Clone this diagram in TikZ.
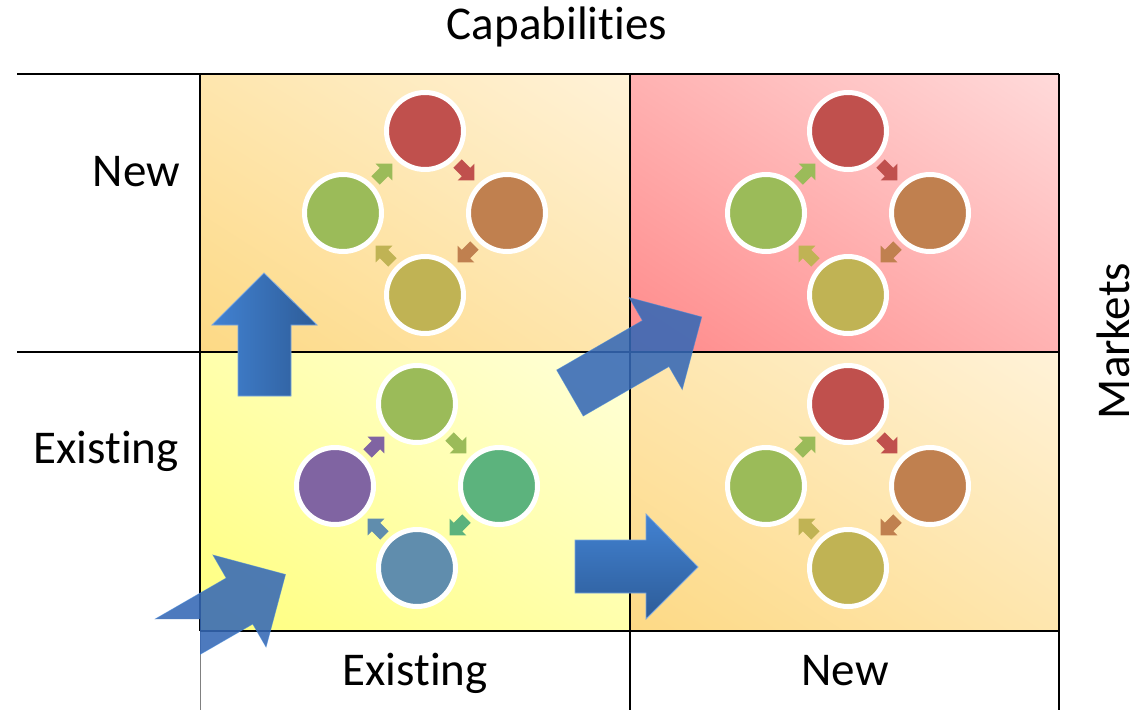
\documentclass[tikz,border=0pt]{standalone}
\usepackage{fontspec}
\setmainfont{Carlito}[RawFeature={-liga;-clig;-dlig;-rlig;-calt}]
\usetikzlibrary{calc,shadings}

% circle colours
\definecolor{cRed}{HTML}{C0504D}
\definecolor{cOrange}{HTML}{C0804F}
\definecolor{cOlive}{HTML}{C0B354}
\definecolor{cGreen}{HTML}{9BBB59}
\definecolor{cPurple}{HTML}{8064A2}
\definecolor{cTeal}{HTML}{5CB37D}
\definecolor{cSteel}{HTML}{608DAD}
% block arrows
\definecolor{arrowLight}{HTML}{4282D2}
\definecolor{arrowDark}{HTML}{2D5C98}
\definecolor{arrowMid}{HTML}{3568B6}
% quadrant backgrounds
\definecolor{orangeLo}{HTML}{FDD985}
\definecolor{orangeMid}{HTML}{FEE6AE}
\definecolor{orangeHi}{HTML}{FFF2D8}
\definecolor{redLo}{HTML}{FF8A8A}
\definecolor{redMid}{HTML}{FFB2B2}
\definecolor{redHi}{HTML}{FFDADA}
\definecolor{yelLo}{HTML}{FFFF7E}
\definecolor{yelMid}{HTML}{FFFFAC}
\definecolor{yelHi}{HTML}{FFFFDA}

\tikzset{
  gridline/.style={line width=2.6pt, black},
  lbl/.style={font=\fontsize{47}{56}\selectfont, inner sep=0pt, text=black},
  ring/.style={circle, draw=white, line width=5pt, minimum size=77pt, inner sep=0pt},
  diagarrow/.style={fill=arrowMid, fill opacity=0.88, draw=arrowLight, draw opacity=0.6, line width=0.8pt},
  ring arrow/.pic={\path[pic actions] (-12,-6) -- (0,-6) -- (0,-12) -- (12,0) -- (0,12) -- (0,6) -- (-12,6) -- cycle;},
  wide arrow/.pic={\path[pic actions] (0,-26.5) -- (99,-26.5) -- (99,-53) -- (152,0) -- (99,53) -- (99,26.5) -- (0,26.5) -- cycle;}
}

% four circles in a clockwise ring with small arrows between them
% #1 prefix, #2 centre, #3 top, #4 right, #5 bottom, #6 left
\newcommand\ringcycle[6]{%
  \node[ring, fill=#3] (#1-t) at ($#2+(0,-82)$) {};
  \node[ring, fill=#4] (#1-r) at ($#2+(82,0)$) {};
  \node[ring, fill=#5] (#1-b) at ($#2+(0,82)$) {};
  \node[ring, fill=#6] (#1-l) at ($#2+(-82,0)$) {};
  \pic[rotate=-45, fill=#3] at ($(#1-t)!0.5!(#1-r)$) {ring arrow};
  \pic[rotate=-135, fill=#4] at ($(#1-r)!0.5!(#1-b)$) {ring arrow};
  \pic[rotate=135, fill=#5] at ($(#1-b)!0.5!(#1-l)$) {ring arrow};
  \pic[rotate=45, fill=#6] at ($(#1-l)!0.5!(#1-t)$) {ring arrow};
}

\begin{document}
\begin{tikzpicture}[x=1pt, y=-1pt]
  \useasboundingbox (0,0) rectangle (1140,710);
  \fill[white] (0,0) rectangle (1140,710);

  % quadrant backgrounds
  \shade[lower left=orangeLo, upper right=orangeHi, upper left=orangeMid, lower right=orangeMid]
    (200,74) rectangle (630,352);
  \shade[lower left=redLo, upper right=redHi, upper left=redMid, lower right=redMid]
    (630,74) rectangle (1059,352);
  \shade[lower left=yelLo, upper right=yelHi, upper left=yelMid, lower right=yelMid]
    (200,352) rectangle (630,631);
  \shade[lower left=orangeLo, upper right=orangeHi, upper left=orangeMid, lower right=orangeMid]
    (630,352) rectangle (1059,631);

  % grid
  \draw[gray, line width=1pt] (200,631) -- (200,710);
  \draw[gridline] (17,74) -- (1059,74);
  \draw[gridline] (17,352) -- (1059,352);
  \draw[gridline] (200,631) -- (1059,631);
  \draw[gridline] (200,74) -- (200,631);
  \draw[gridline] (630,74) -- (630,710);
  \draw[gridline] (1059,74) -- (1059,710);

  % cycles
  \ringcycle{tl}{(425,213)}{cRed}{cOrange}{cOlive}{cGreen}
  \ringcycle{tr}{(848,213)}{cRed}{cOrange}{cOlive}{cGreen}
  \ringcycle{br}{(848,486)}{cRed}{cOrange}{cOlive}{cGreen}
  \ringcycle{bl}{(417,486)}{cGreen}{cTeal}{cSteel}{cPurple}

  % upward block arrow
  \shade[left color=arrowLight, right color=arrowDark, draw=arrowLight!70!white, line width=0.8pt]
    (264,273) -- (317,325) -- (291,325) -- (291,396) -- (238,396) -- (238,325) -- (212,325) -- cycle;
  % rightward block arrow
  \shade[top color=arrowLight, bottom color=arrowDark, draw=arrowLight!70!white, line width=0.8pt]
    (575,540) -- (646,540) -- (646,514) -- (698,567) -- (646,619) -- (646,593) -- (575,593) -- cycle;

  % diagonal arrows
  \pic[rotate=30, diagarrow] at (570,393) {wide arrow};
  \begin{scope}
    \clip (0,0) -- (1140,0) -- (1140,710) -- (200,710) -- (200,619) -- (0,619) -- cycle;
    \pic[rotate=30, diagarrow] at (153.8,650.5) {wide arrow};
  \end{scope}

  % axis labels
  \node[lbl, anchor=base] (capab) at (557,39) {Capabilities};
  \node[lbl, anchor=base east] (rownew) at (180,186) {New};
  \node[lbl, anchor=base east] (rowexist) at (179,463) {Existing};
  \node[lbl, anchor=base] (colexist) at (415,685) {Existing};
  \node[lbl, anchor=base] (colnew) at (845,685) {New};
  \node[lbl, rotate=90, anchor=base] (markets) at (1129,341) {Markets};
\end{tikzpicture}
\end{document}
